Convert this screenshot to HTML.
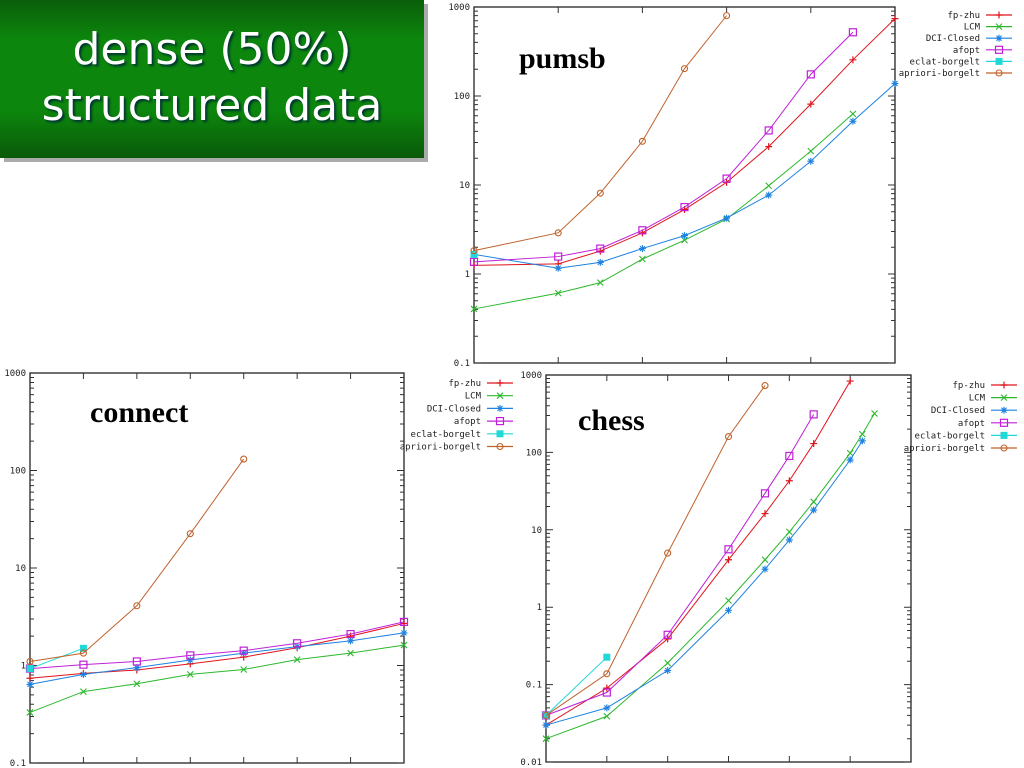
<!DOCTYPE html>
<html><head><meta charset="utf-8">
<style>
html,body{margin:0;padding:0;background:#fff;width:1024px;height:768px;overflow:hidden}
#title{position:absolute;left:0;top:0;width:424px;height:158px;background:linear-gradient(#0a5e0a,#0c860c 25%,#0c860c 70%,#0a5a0a);box-shadow:4px 4px 0 #aaa;color:#fff;font-family:"DejaVu Sans","Liberation Sans",sans-serif;font-size:44px;text-align:center;line-height:56px;padding-top:22px;box-sizing:border-box;text-shadow:2px 2px 2px #033}
svg{position:absolute;left:0;top:0}
</style></head><body>
<div id="title">dense (50%)<br>structured data</div>
<svg id="s" width="1024" height="768"></svg>
<script>
const seriesNames=["fp-zhu","LCM","DCI-Closed","afopt","eclat-borgelt","apriori-borgelt"];
// pumsb
const pumsbX=[0,2,3,4,5,6,7,8,9,10];
const pumsbFp=[1.25,1.3,1.81,2.9,5.3,10.7,27,81,255,740];
const pumsbLcm=[0.405,0.61,0.8,1.47,2.4,4.15,9.8,24,63];
const pumsbDci=[1.66,1.16,1.35,1.93,2.7,4.25,7.7,18.5,52,138];
const pumsbAfopt=[1.37,1.57,1.93,3.1,5.65,11.8,41,175,520];
const pumsbEclat=[1.66];
const pumsbApriori=[1.83,2.9,8.1,31,203,800];
// connect
const connectX=[0,1,2,3,4,5,6,7];
const connectFp=[0.74,0.83,0.9,1.04,1.22,1.52,2.0,2.7];
const connectLcm=[0.33,0.54,0.65,0.81,0.91,1.15,1.34,1.62];
const connectDci=[0.64,0.81,0.95,1.14,1.34,1.56,1.79,2.16];
const connectAfopt=[0.93,1.02,1.1,1.27,1.42,1.69,2.1,2.8];
const connectEclat=[0.93,1.5];
const connectApriori=[1.1,1.34,4.1,22.5,131];
// chess
const chessX=[0,1,2,3,3.6,4,4.4,5,5.2,5.4];
const chessFp=[0.03,0.09,0.39,4.1,16.2,43,130,835];
const chessLcm=[0.02,0.039,0.19,1.22,4.1,9.4,23,98,172,318];
const chessDci=[0.03,0.05,0.152,0.91,3.1,7.4,18,80,141];
const chessAfopt=[0.04,0.079,0.44,5.6,29.6,90,310];
const chessEclat=[0.04,0.226];
const chessApriori=[0.04,0.138,5.0,160,730];
const yLabelsP=["0.1","1","10","100","1000"];
const yLabelsC=["0.1","1","10","100","1000"];
const yLabelsH=["0.01","0.1","1","10","100","1000"];

const colors=["#e0141c","#2cb82c","#1e82e0","#c020d8","#20d8d8","#c0622a"];
const NS="http://www.w3.org/2000/svg";
const svg=document.getElementById('s');
function mk(tag,attrs,parent){const e=document.createElementNS(NS,tag);for(const k in attrs)e.setAttribute(k,attrs[k]);(parent||svg).appendChild(e);return e;}
function marker(g,i,x,y){
  const c=colors[i];
  if(i===0){mk('path',{d:`M${x-3.5},${y}h7M${x},${y-3.5}v7`,stroke:c,'stroke-width':1.2,fill:'none'},g);}
  else if(i===1){mk('path',{d:`M${x-3},${y-3}l6,6M${x-3},${y+3}l6,-6`,stroke:c,'stroke-width':1.1,fill:'none'},g);}
  else if(i===2){mk('path',{d:`M${x-3.5},${y}h7M${x},${y-3.5}v7M${x-2.5},${y-2.5}l5,5M${x-2.5},${y+2.5}l5,-5`,stroke:c,'stroke-width':1.1,fill:'none'},g);}
  else if(i===3){mk('rect',{x:x-3.5,y:y-3.5,width:7,height:7,stroke:c,'stroke-width':1.2,fill:'none'},g);}
  else if(i===4){mk('rect',{x:x-3.5,y:y-3.5,width:7,height:7,fill:c},g);}
  else {mk('circle',{cx:x,cy:y,r:3,stroke:c,'stroke-width':1.1,fill:'none'},g);}
}
function chart(cfg){
  const g=mk('g',{});
  
  
  const sx=u=>cfg.x0+(cfg.x1-cfg.x0)*u/cfg.xMax;
  const sy=v=>cfg.yb-(cfg.yb-cfg.yt)*(Math.log10(v)-cfg.lmin)/(cfg.lmax-cfg.lmin);
  mk('rect',{x:cfg.x0,y:cfg.yt,width:cfg.x1-cfg.x0,height:cfg.yb-cfg.yt,fill:'none',stroke:'#222','stroke-width':1.3},g);
  let d='';
  for(let p=cfg.lmin;p<cfg.lmax;p++){for(let m=1;m<10;m++){const y=sy(m*Math.pow(10,p));const L=m===1?7:4;d+=`M${cfg.x0},${y}h${L}M${cfg.x1},${y}h${-L}`;}}
  for(let t=cfg.tickStep;t<cfg.xMax-0.01;t+=cfg.tickStep){const x=sx(t);d+=`M${x},${cfg.yb}v-6M${x},${cfg.yt}v6`;}
  mk('path',{d:d,stroke:'#333','stroke-width':1,fill:'none'},g);
  cfg.yLabels.forEach((lab,i)=>{
    const t=mk('text',{x:cfg.x0-4,y:sy(Math.pow(10,cfg.lmin+i))+3,'text-anchor':'end','font-size':9,'font-family':'DejaVu Sans Mono, Liberation Mono, monospace',fill:'#222'},g);
    
    
    t.textContent=lab;
  });
  const tt=mk('text',{x:cfg.tx,y:cfg.ty,'font-size':30,'font-weight':'bold','font-family':'Liberation Serif, serif',fill:'#000'},g);
  
  
  tt.textContent=cfg.name;
  cfg.series.forEach((vals,i)=>{
    const sg=mk('g',{},g);
    
    
    const pts=vals.map((v,j)=>[sx(cfg.xs[j]),sy(v)]);
    if(pts.length>1)mk('polyline',{points:pts.map(p=>p.join(',')).join(' '),fill:'none',stroke:colors[i],'stroke-width':1},sg);
    pts.forEach(p=>marker(sg,i,p[0],p[1]));
  });
  const lg=mk('g',{},g);
  
  
  seriesNames.forEach((n,i)=>{
    const y=cfg.ly+i*cfg.lsp;
    const t=mk('text',{x:cfg.lx,y:y+3,'text-anchor':'end','font-size':9,'font-family':'DejaVu Sans Mono, Liberation Mono, monospace',fill:'#222'},lg);
    
    
    t.textContent=n;
    mk('line',{x1:cfg.lx+6,x2:cfg.lx+32,y1:y,y2:y,stroke:colors[i],'stroke-width':1.2},lg);
    marker(lg,i,cfg.lx+19,y);
  });
}
chart({name:'pumsb',x0:474,x1:895,yt:7,yb:363,xMax:10,tickStep:2,lmin:-1,lmax:3,xs:pumsbX,
  series:[pumsbFp,pumsbLcm,pumsbDci,pumsbAfopt,pumsbEclat,pumsbApriori],yLabels:yLabelsP,
  tx:519,ty:68,lx:980,ly:15,lsp:11.6});
chart({name:'connect',x0:30,x1:404,yt:373,yb:763,xMax:7,tickStep:1,lmin:-1,lmax:3,xs:connectX,
  series:[connectFp,connectLcm,connectDci,connectAfopt,connectEclat,connectApriori],yLabels:yLabelsC,
  tx:90,ty:422,lx:481,ly:383,lsp:12.7});
chart({name:'chess',x0:546,x1:911,yt:375,yb:762,xMax:6,tickStep:1,lmin:-2,lmax:3,xs:chessX,
  series:[chessFp,chessLcm,chessDci,chessAfopt,chessEclat,chessApriori],yLabels:yLabelsH,
  tx:578,ty:430,lx:985,ly:385,lsp:12.6});
</script>
</body></html>
